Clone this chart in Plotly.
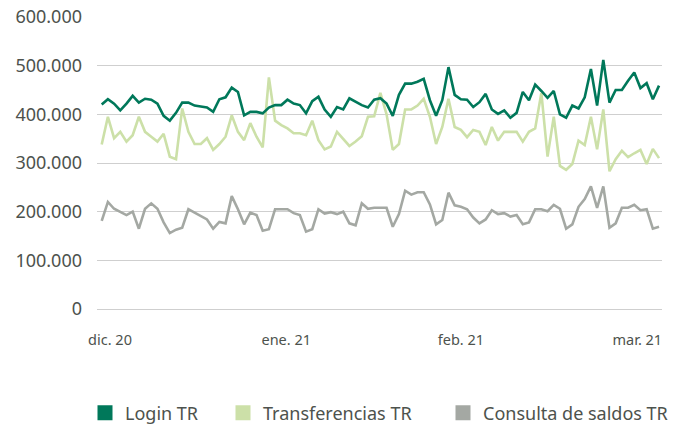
import plotly.graph_objects as go

# Daily values (Dec 2020 - Mar 2021), in thousands
login_tr = [420, 431, 422, 408, 422, 438, 424, 432, 430, 422, 397, 387, 403, 424, 424, 418, 416, 414, 405, 431, 435, 455, 446,
            398, 405, 405, 402, 414, 419, 419, 430, 422, 419, 402, 427, 436, 410, 395, 415, 410, 433, 426, 419, 414, 430,
            433, 422, 397, 440, 463, 463, 467, 473, 429, 397, 429, 497, 440, 431, 430, 415, 425, 442, 410, 401, 408, 393, 403, 446,
            429, 461, 448, 434, 448, 400, 393, 418, 412, 435, 493, 418, 512, 424, 450, 450, 469, 486, 454, 464, 431, 459]
transferencias_tr = [338, 395, 351, 364, 344, 357, 395, 364, 354, 344, 360, 313, 308, 412, 364, 339, 339, 351, 327, 339, 354, 398, 364,
                     347, 382, 354, 332, 476, 387, 378, 371, 361, 361, 357, 387, 347, 328, 334, 364, 349, 335, 344, 355, 395, 396, 444,
                     400, 327, 339, 410, 410, 418, 432, 395, 339, 374, 432, 374, 368, 353, 368, 364, 337, 374, 346, 364, 364, 364, 344,
                     364, 371, 444, 313, 395, 294, 286, 298, 346, 337, 395, 328, 410, 283, 308, 325, 312, 320, 327, 298, 329, 310]
consulta_saldos_tr = [181, 220, 206, 200, 193, 200, 165, 206, 217, 206, 178, 156, 163, 167, 205, 198, 191, 184, 165, 179, 176, 232, 205,
                      174, 198, 193, 161, 164, 205, 205, 205, 197, 193, 159, 164, 205, 196, 199, 195, 200, 176, 172, 217, 206, 208, 208,
                      208, 169, 195, 243, 235, 240, 240, 215, 174, 183, 239, 213, 210, 205, 188, 176, 184, 203, 195, 197, 190, 193, 174,
                      178, 205, 205, 201, 214, 206, 165, 174, 210, 226, 252, 208, 252, 167, 176, 208, 208, 214, 203, 205, 165, 169]

series_names = ["Login TR", "Transferencias TR", "Consulta de saldos TR"]
tick_labels = ["dic. 20", "ene. 21", "feb. 21", "mar. 21"]
tick_index = [1.34, 29.8, 58.0, 86.5]
y_ticks = [0, 100000, 200000, 300000, 400000, 500000, 600000]

colors = ["#00785A", "#CCE0A8", "#A4A8A3"]
data = [login_tr, transferencias_tr, consulta_saldos_tr]
x = list(range(len(login_tr)))
legend_ids = ["legend", "legend2", "legend3"]
legend_x = [85, 223, 443]  # left edge of each legend entry (px)

fig = go.Figure()
for k in [2, 1, 0]:
    fig.add_trace(go.Scatter(
        x=x, y=[v * 1000 for v in data[k]], mode="lines",
        line=dict(color=colors[k], width=2.6), showlegend=False,
        hoverinfo="skip"))
for k in range(3):
    fig.add_trace(go.Scatter(
        x=[None], y=[None], mode="markers", name=series_names[k],
        marker=dict(symbol="square", size=15, color=colors[k]),
        legend=legend_ids[k], showlegend=True))

W, H = 683, 428
legend_common = dict(orientation="h", xref="container", yref="container",
                     xanchor="left", yanchor="middle", y=1 - 413 / H,
                     font=dict(family="Noto Sans", size=18, color="#4D524D"),
                     itemsizing="trace", bgcolor="rgba(0,0,0,0)")
layout_legends = {}
for k in range(3):
    d = dict(legend_common)
    d["x"] = legend_x[k] / W
    layout_legends[legend_ids[k]] = d

fig.update_layout(
    width=W, height=H,
    margin=dict(l=97, r=21, t=17, b=119, autoexpand=False),
    paper_bgcolor="white", plot_bgcolor="white",
    separators=",.",
    font=dict(family="Noto Sans", color="#4D524D", size=15),
    showlegend=True,
    **layout_legends,
)
fig.update_xaxes(range=[-0.76, 90.48], tickmode="array", tickvals=tick_index, ticktext=tick_labels,
                 showgrid=False, zeroline=False, showline=False, ticks="", automargin=False,
                 tickfont=dict(size=14.5, color="#4D524D"), ticklabelstandoff=20)
fig.update_yaxes(range=[0, 600000], tickmode="array", tickvals=y_ticks, tickformat=",.0f",
                 showgrid=True, gridcolor="#CFCFCF", gridwidth=1.3,
                 zeroline=True, zerolinecolor="#CFCFCF", zerolinewidth=1.3, showline=False,
                 ticks="", automargin=False, tickfont=dict(size=18, color="#4D524D"), ticklabelstandoff=14)

fig.write_html("out.html", config={"displayModeBar": False},
               post_script="document.body.style.margin='0';")
